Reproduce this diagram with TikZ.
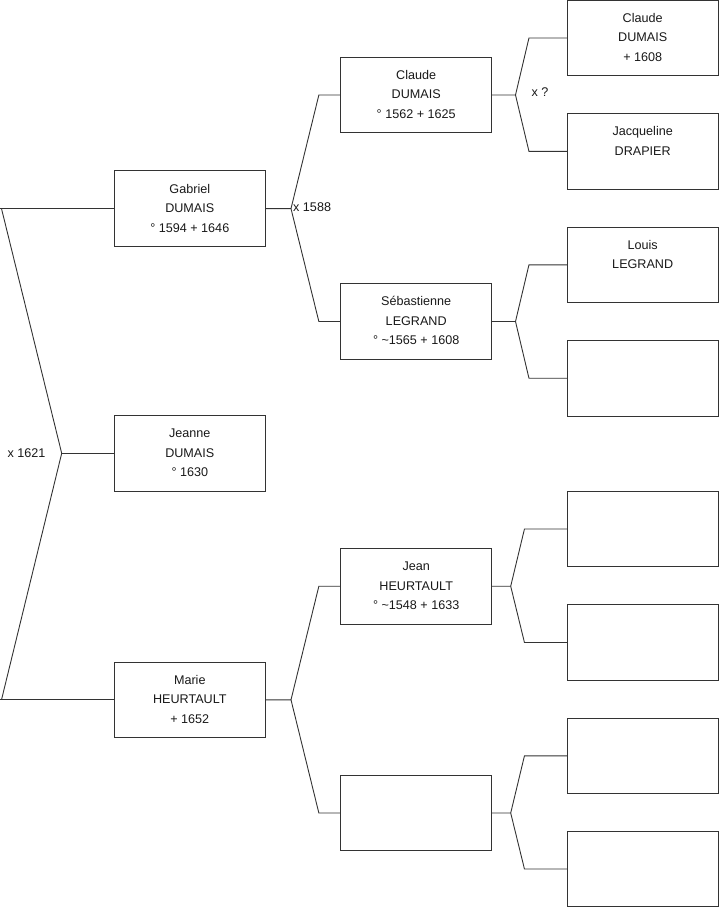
\documentclass[tikz,border=0pt]{standalone}
\usepackage{fontspec}
\setmainfont{Liberation Sans}
\newcommand\threeln[3]{\strut#1\\#2\\#3\strut}
\begin{document}
\begin{tikzpicture}[x=1pt,y=-1pt,
  person/.style={draw=black!80,line width=0.9pt,minimum width=151pt,minimum height=75.5pt,
    inner sep=0pt,align=center,font=\fontsize{12.6}{19.5}\selectfont,text=black!90},
  link/.style={draw=black!80,line width=0.9pt},
  lbl/.style={font=\fontsize{12.6}{15}\selectfont,text=black!90,inner sep=0pt}]
\useasboundingbox (0,0) rectangle (719,908);
% generation 1
\node[person] (gab) at (189.8,208.6) {\threeln{Gabriel}{DUMAIS}{° 1594 + 1646}};
\node[person] (jea) at (189.8,453.3) {\threeln{Jeanne}{DUMAIS}{° 1630}};
\node[person] (mar) at (189.8,699.8) {\threeln{Marie}{HEURTAULT}{+ 1652}};
% generation 2
\node[person] (cla) at (416.2,95) {\threeln{Claude}{DUMAIS}{° 1562 + 1625}};
\node[person] (seb) at (416.2,321.5) {\threeln{Sébastienne}{LEGRAND}{° \textasciitilde1565 + 1608}};
\node[person] (jean) at (416.2,586.2) {\threeln{Jean}{HEURTAULT}{° \textasciitilde1548 + 1633}};
\node[person] (ea) at (416.2,813) {};
% generation 3
\node[person] (cl3) at (642.7,38) {\threeln{Claude}{DUMAIS}{+ 1608}};
\node[person] (jac) at (642.7,151.3) {\threeln{Jacqueline}{DRAPIER}{}};
\node[person] (lou) at (642.7,264.8) {\threeln{Louis}{LEGRAND}{}};
\node[person] (e1) at (642.7,378.2) {};
\node[person] (e2) at (642.7,529) {};
\node[person] (e3) at (642.7,642.5) {};
\node[person] (e4) at (642.7,755.8) {};
\node[person] (e5) at (642.7,869) {};
% left bracket
\coordinate (tl) at (1.5,208.6);
\coordinate (bl) at (1.5,699.8);
\coordinate (ap) at (61.7,453.3);
\draw[link] (gab.west) -- (0,208.6);
\draw[link] (tl) -- (ap) -- (bl);
\draw[link] (0,699.8) -- (mar.west);
\draw[link] (ap) -- (jea.west);
% Gabriel's parents
\coordinate (ag) at (291,208.6);
\draw[link] (gab.east) -- (ag) -- ([xshift=-21.4pt]cla.west) -- (cla.west);
\draw[link] (ag) -- ([xshift=-21.4pt]seb.west) -- (seb.west);
% Marie's parents
\coordinate (am) at (291,699.8);
\draw[link] (mar.east) -- (am) -- ([xshift=-21.4pt]jean.west) -- (jean.west);
\draw[link] (am) -- ([xshift=-21.4pt]ea.west) -- (ea.west);
% Claude's parents
\coordinate (ac) at (515.5,95);
\draw[link] (cla.east) -- (ac) -- ([xshift=-37.8pt]cl3.west) -- (cl3.west);
\draw[link] (ac) -- ([xshift=-37.8pt]jac.west) -- (jac.west);
% Sebastienne's parents
\coordinate (as) at (515.5,321.5);
\draw[link] (seb.east) -- (as) -- ([xshift=-37.8pt]lou.west) -- (lou.west);
\draw[link] (as) -- ([xshift=-37.8pt]e1.west) -- (e1.west);
% Jean's parents
\coordinate (aj) at (510.7,586.2);
\draw[link] (jean.east) -- (aj) -- ([xshift=-42.3pt]e2.west) -- (e2.west);
\draw[link] (aj) -- ([xshift=-42.3pt]e3.west) -- (e3.west);
% empty's parents
\coordinate (ae) at (510.7,813);
\draw[link] (ea.east) -- (ae) -- ([xshift=-42.3pt]e4.west) -- (e4.west);
\draw[link] (ae) -- ([xshift=-42.3pt]e5.west) -- (e5.west);
% marriage labels
\node[lbl] (m1621) at (26.5,452.7) {x 1621};
\node[lbl,anchor=west] (m1588) at (293,207.2) {x 1588};
\node[lbl,anchor=west] (mq) at (531.5,92.5) {x ?};
\end{tikzpicture}
\end{document}
